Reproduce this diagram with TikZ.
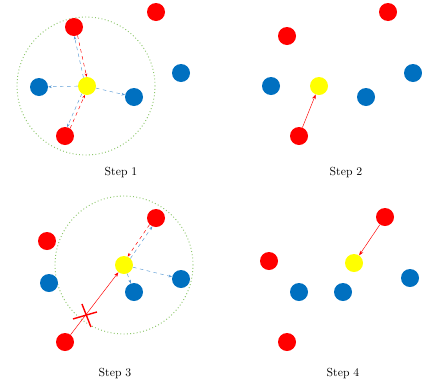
\documentclass[tikz,border=0pt]{standalone}
\usetikzlibrary{calc}
\usetikzlibrary{arrows, arrows.meta}
\definecolor{RED}{HTML}{FF0000}
\definecolor{BLUE}{HTML}{0070C0}
\definecolor{YELLOW}{HTML}{FFFF00}
\definecolor{LBLUE}{HTML}{5B9BD5}
\definecolor{GREEN}{HTML}{8CC66A}
\tikzset{
    dot/.style={circle, inner sep=0pt, minimum size=0.54cm},
    reddot/.style={dot, fill=RED},
    bluedot/.style={dot, fill=BLUE},
    query/.style={dot, fill=YELLOW},
    ring/.style={GREEN, dotted, thick},
    probe/.style={LBLUE, dashed, -{Stealth[length=3pt]}},
    back/.style={RED, dashed, -{Stealth[length=3pt]}},
    move/.style={RED, -{Stealth[length=4pt]}},
    steplabel/.style={font=\normalsize}
}
\begin{document}
\begin{tikzpicture}[x=0.03cm, y=-0.03cm]
    \useasboundingbox (0,0) rectangle (422,387);
    % Step 1
    \node[ring, circle, minimum size=4.14cm, draw] (zone1) at (86,86) {};
    \node[reddot] (a1) at (74,27) {};
    \node[reddot] (a2) at (156,12) {};
    \node[bluedot] (a3) at (181,73) {};
    \node[bluedot] (a4) at (39,87) {};
    \node[query] (a5) at (87,86) {};
    \node[bluedot] (a6) at (134,97) {};
    \node[reddot] (a7) at (65,136) {};
    \draw[probe] (a5) -- (a4);
    \draw[probe] (a5) -- (a6);
    \draw[probe, shorten <=7.7pt, shorten >=7.7pt] ($(a5)!1.4pt!90:(a1)$) -- ($(a1)!1.4pt!-90:(a5)$);
    \draw[back, shorten <=7.7pt, shorten >=7.7pt] ($(a1)!1.4pt!90:(a5)$) -- ($(a5)!1.4pt!-90:(a1)$);
    \draw[probe, shorten <=7.7pt, shorten >=7.7pt] ($(a5)!1.4pt!-90:(a7)$) -- ($(a7)!1.4pt!90:(a5)$);
    \draw[back, shorten <=7.7pt, shorten >=7.7pt] ($(a7)!1.4pt!-90:(a5)$) -- ($(a5)!1.4pt!90:(a7)$);
    \node[steplabel] (s1) at (121,173) {Step 1};
    % Step 2
    \node[reddot] (b1) at (388,12) {};
    \node[reddot] (b2) at (287,36) {};
    \node[bluedot] (b3) at (271,86) {};
    \node[query] (b4) at (319,86) {};
    \node[bluedot] (b5) at (366,97) {};
    \node[bluedot] (b6) at (413,73) {};
    \node[reddot] (b7) at (299,136) {};
    \draw[move] (b7) -- (b4);
    \node[steplabel] (s2) at (346,173) {Step 2};
    % Step 3
    \node[ring, circle, minimum size=4.14cm, draw] (zone3) at (124,265) {};
    \node[reddot] (c1) at (47,241) {};
    \node[bluedot] (c2) at (49,283) {};
    \node[query] (c3) at (124,265) {};
    \node[reddot] (c4) at (156,218) {};
    \node[bluedot] (c5) at (134,292) {};
    \node[bluedot] (c6) at (181,279) {};
    \node[reddot] (c7) at (65,342) {};
    \draw[probe] (c3) -- (c5);
    \draw[probe] (c3) -- (c6);
    \draw[probe, shorten <=7.7pt, shorten >=7.7pt] ($(c3)!1.4pt!-90:(c4)$) -- ($(c4)!1.4pt!90:(c3)$);
    \draw[back, shorten <=7.7pt, shorten >=7.7pt] ($(c4)!1.4pt!-90:(c3)$) -- ($(c3)!1.4pt!90:(c4)$);
    \draw[move] (c7) -- (c3) coordinate[pos=0.3] (cut);
    \draw[RED, very thick] ($(cut)+(-12,3)$) -- ($(cut)+(12,-4)$);
    \draw[RED, very thick] ($(cut)+(-3,-12)$) -- ($(cut)+(6,11)$);
    \node[steplabel] (s3) at (115,373) {Step 3};
    % Step 4
    \node[reddot] (d1) at (385,217) {};
    \node[reddot] (d2) at (269,261) {};
    \node[query] (d3) at (354,263) {};
    \node[bluedot] (d4) at (299,292) {};
    \node[bluedot] (d5) at (343,292) {};
    \node[bluedot] (d6) at (410,278) {};
    \node[reddot] (d7) at (287,342) {};
    \draw[move] (d1) -- (d3);
    \node[steplabel] (s4) at (343,373) {Step 4};
\end{tikzpicture}
\end{document}
